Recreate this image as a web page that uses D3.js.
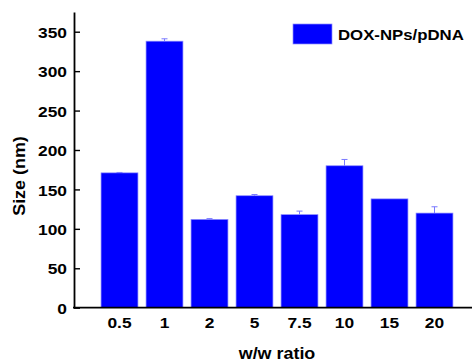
<!DOCTYPE html>
<html>
<head>
<meta charset="utf-8">
<script src="https://cdn.jsdelivr.net/npm/d3@7"></script>
<style>
    body { margin: 0; padding: 0; background: #ffffff; }
    text { font-family: 'Liberation Sans', Arial, sans-serif; font-weight: bold; fill: #000000; }
</style>
</head>
<body>
<script>

var ratios = ['0.5', '1', '2', '5', '7.5', '10', '15', '20']
var sizes = [171, 338, 112, 142, 118, 180, 138, 120]
var sizeErrors = [0.5, 3, 1, 1.5, 4.5, 8, 0, 8]
var yTicks = [0, 50, 100, 150, 200, 250, 300, 350]
var seriesName = 'DOX-NPs/pDNA'

var chartAreaWidth = 472
var chartAreaHeight = 363
var stretch = 1.12

var rows = ratios.map(function(r, i) {
    return { ratio: r, size: sizes[i], err: sizeErrors[i] }
})

var svg = d3.select('body')
                .append('svg')
                    .attr('width', chartAreaWidth)
                    .attr('height', chartAreaHeight)

var xscale = d3.scaleBand()
                .domain(ratios)
                .range([97, 457])
                .paddingInner(0.18)
                .paddingOuter(0.09)

var yscale = d3.scaleLinear()
                .domain([0, 375])
                .range([307.7, 12])

function barCenter(d) {
    return xscale(d.ratio) + xscale.bandwidth() / 2
}

// bars
svg.append('g')
        .selectAll('rect')
        .data(rows)
        .enter()
            .append('rect')
                .attr('x', function(d) { return xscale(d.ratio) })
                .attr('y', function(d) { return yscale(d.size) })
                .attr('width', xscale.bandwidth())
                .attr('height', function(d) { return yscale(0) - yscale(d.size) })
                .attr('fill', '#0000ff')
                .attr('stroke', '#8c8cff')
                .attr('stroke-width', 0.7)

// error bars (upper half only, the lower one is hidden by the bar)
var err = svg.append('g')
                .attr('stroke', '#7a7aff')
                .attr('stroke-width', 1)
                .selectAll('g')
                .data(rows.filter(function(d) { return d.err > 0 }))
                .enter()
                    .append('g')

err.append('line')
        .attr('x1', barCenter)
        .attr('x2', barCenter)
        .attr('y1', function(d) { return yscale(d.size) })
        .attr('y2', function(d) { return yscale(d.size + d.err) })

err.append('line')
        .attr('x1', function(d) { return barCenter(d) - 3 })
        .attr('x2', function(d) { return barCenter(d) + 3 })
        .attr('y1', function(d) { return yscale(d.size + d.err) })
        .attr('y2', function(d) { return yscale(d.size + d.err) })

// y axis
var y_axis = d3.axisLeft()
                .scale(yscale)
                .tickValues(yTicks)
                .tickSizeInner(-6)
                .tickSizeOuter(0)
                .tickPadding(7)

var yAxisG = svg.append('g')
                .attr('transform', 'translate(74, 0)')
                .call(y_axis)

yAxisG.select('.domain')
        .attr('stroke-width', 1.8)
yAxisG.selectAll('.tick line')
        .attr('stroke-width', 1.4)
yAxisG.selectAll('.tick text')
        .attr('x', null)
        .attr('dy', null)
        .attr('dominant-baseline', 'central')
        .attr('transform', 'translate(-7, 0) scale(' + stretch + ', 1)')
        .style('font-size', '15.5px')
        .style('font-family', null)

// x axis
var x_axis = d3.axisBottom()
                .scale(xscale)
                .tickSize(0)
                .tickPadding(9)

var xAxisG = svg.append('g')
                .attr('transform', 'translate(0, ' + yscale(0) + ')')
                .call(x_axis)

xAxisG.select('.domain').remove()
xAxisG.selectAll('.tick text')
        .attr('y', null)
        .attr('dy', null)
        .attr('transform', 'translate(0, 20.5) scale(' + stretch + ', 1)')
        .style('font-size', '15.5px')
        .style('font-family', null)

svg.append('line')
        .attr('x1', 73)
        .attr('x2', chartAreaWidth)
        .attr('y1', yscale(0))
        .attr('y2', yscale(0))
        .attr('stroke', '#000000')
        .attr('stroke-width', 1.8)

// axis titles
svg.append('text')
        .text('w/w ratio')
        .attr('text-anchor', 'middle')
        .attr('transform', 'translate(277, 359) scale(' + stretch + ', 1)')
        .style('font-size', '16px')

svg.append('text')
        .text('Size (nm)')
        .attr('text-anchor', 'middle')
        .attr('transform', 'translate(25, 176) rotate(-90) scale(' + stretch + ', 1)')
        .style('font-size', '16px')

// legend
var legend = svg.append('g')
                .attr('transform', 'translate(293, 24)')

legend.append('rect')
        .attr('width', 39)
        .attr('height', 20)
        .attr('fill', '#0000ff')
        .attr('stroke', '#8c8cff')
        .attr('stroke-width', 0.7)

legend.append('text')
        .text(seriesName)
        .attr('transform', 'translate(45, 15.5) scale(' + stretch + ', 1)')
        .style('font-size', '15px')

</script>
</body>
</html>
